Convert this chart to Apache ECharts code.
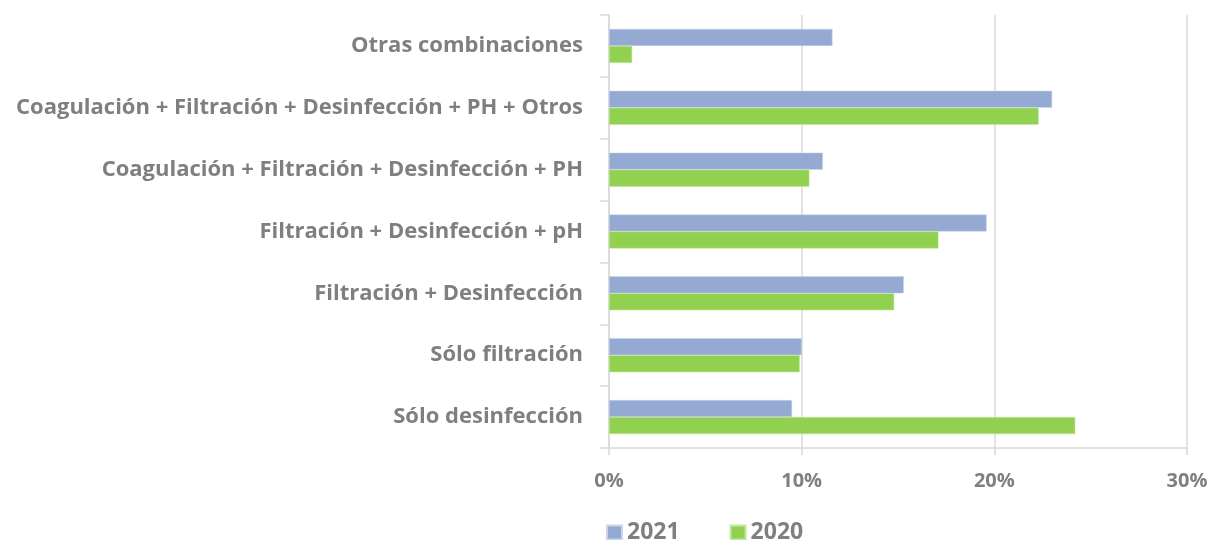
<!DOCTYPE html>
<html lang="es">
<head>
    <meta charset="UTF-8">
    <title>Tratamientos</title>
    <script src="https://cdn.jsdelivr.net/npm/echarts@6/dist/echarts.min.js"></script>
    <style>
        html, body { margin: 0; padding: 0; background: #fff; }
        #chart { width: 1211px; height: 540px; }
    </style>
</head>
<body>
<div id="chart"></div>
<script>
    // categorias, de arriba hacia abajo
    var categories = [
        'Otras combinaciones',
        'Coagulación + Filtración + Desinfección + PH + Otros',
        'Coagulación + Filtración + Desinfección + PH',
        'Filtración + Desinfección + pH',
        'Filtración + Desinfección',
        'Sólo filtración',
        'Sólo desinfección'
    ];
    var values2021 = [11.6, 23.0, 11.1, 19.6, 15.3, 10.0, 9.5];
    var values2020 = [1.2, 22.3, 10.4, 17.1, 14.8, 9.9, 24.2];
    var xTicks = [0, 10, 20, 30];

    var gray = '#7f7f7f';
    var lineGray = '#d9d9d9';
    var font = '"Open Sans", Lato, sans-serif';

    var chart = echarts.init(document.getElementById('chart'));

    var option = {
        animation: false,
        textStyle: { fontFamily: font },
        grid: { left: 609, right: 24, top: 15, bottom: 92, containLabel: false },
        legend: {
            left: 601,
            top: 516,
            itemWidth: 15,
            itemHeight: 14,
            itemGap: 50,
            icon: 'rect',
            textStyle: { color: gray, fontSize: 23, fontWeight: 'bold', fontFamily: font },
            data: ['2021', '2020']
        },
        xAxis: {
            type: 'value',
            min: xTicks[0],
            max: xTicks[xTicks.length - 1],
            interval: 10,
            axisLine: { show: true, lineStyle: { color: lineGray, width: 1.5 } },
            axisTick: { show: true, length: 7, lineStyle: { color: lineGray, width: 1.5 } },
            splitLine: { show: true, lineStyle: { color: lineGray, width: 1.5 } },
            axisLabel: {
                margin: 23,
                color: gray,
                fontSize: 20,
                fontWeight: 'bold',
                fontFamily: font,
                formatter: '{value}%'
            }
        },
        yAxis: {
            type: 'category',
            inverse: true,
            data: categories,
            axisLine: { show: true, lineStyle: { color: lineGray, width: 1.5 } },
            axisTick: { show: true, length: 9, alignWithLabel: false, lineStyle: { color: lineGray, width: 1.5 } },
            axisLabel: {
                margin: 26,
                color: gray,
                fontSize: 22,
                fontWeight: 'bold',
                fontFamily: font
            }
        },
        series: [
            {
                name: '2021',
                type: 'bar',
                data: values2021,
                barWidth: 17,
                barGap: '0%',
                itemStyle: { color: '#95aad2', borderColor: '#c9d4ea', borderWidth: 0.5 }
            },
            {
                name: '2020',
                type: 'bar',
                data: values2020,
                barWidth: 17,
                barGap: '0%',
                itemStyle: { color: '#92d050', borderColor: '#c4e8a2', borderWidth: 0.5 }
            }
        ]
    };

    chart.setOption(option);
</script>
</body>
</html>
